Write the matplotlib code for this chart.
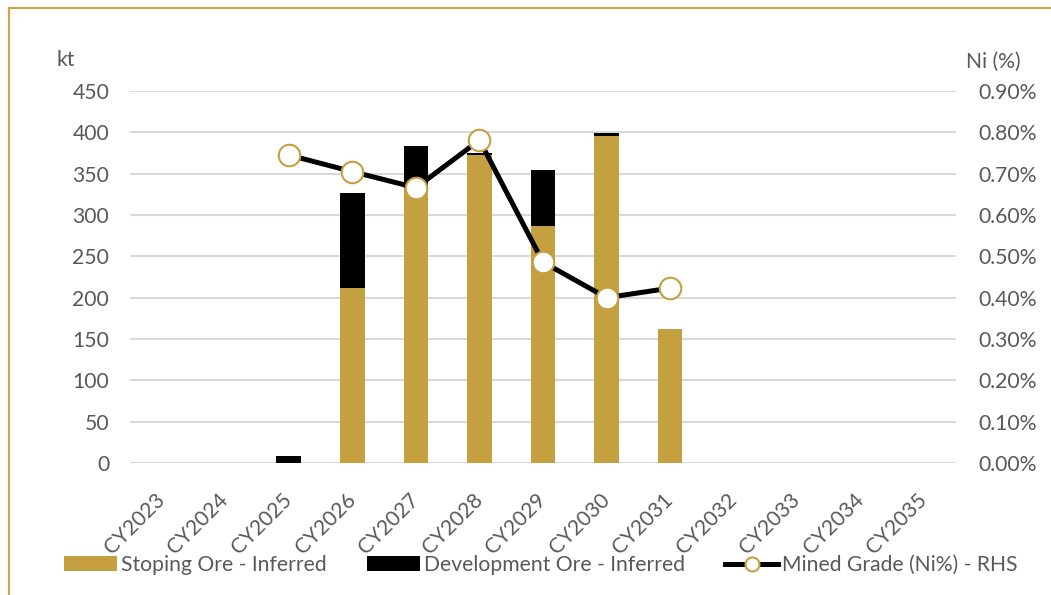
import matplotlib
matplotlib.use("Agg")
import matplotlib.pyplot as plt
import matplotlib.transforms as mtransforms
from matplotlib.lines import Line2D
import numpy as np

categories = ["CY2023", "CY2024", "CY2025", "CY2026", "CY2027", "CY2028", "CY2029",
              "CY2030", "CY2031", "CY2032", "CY2033", "CY2034", "CY2035"]
stoping = [0, 0, 0, 212, 333, 373, 287, 395, 162, 0, 0, 0, 0]
development = [0, 0, 8, 115, 51, 2, 67, 4, 0, 0, 0, 0, 0]
grade = [np.nan, np.nan, 0.745, 0.705, 0.666, 0.781, 0.486, 0.400, 0.423, np.nan, np.nan, np.nan, np.nan]
left_ticks = [0, 50, 100, 150, 200, 250, 300, 350, 400, 450]
right_ticks = [0.0, 0.1, 0.2, 0.3, 0.4, 0.5, 0.6, 0.7, 0.8, 0.9]

GOLD = "#C5A040"
TXT = "#595959"
GRID = "#D9D9D9"
plt.rcParams['font.family'] = ['Lato', 'DejaVu Sans']
FS = 15.2

fig = plt.figure(figsize=(10.51, 5.95), dpi=100)
ax = fig.add_axes([130/1051, 1-463/595, (956-130)/1051, (463-91)/595])
x = np.arange(len(categories))
ax.bar(x, stoping, width=0.39, color=GOLD, label="Stoping Ore - Inferred", zorder=2)
ax.bar(x, development, width=0.39, bottom=stoping, color="black", label="Development Ore - Inferred", zorder=2)
ax.set_xlim(-0.5, len(categories)-0.5)
ax.set_ylim(0, 450)
ax.set_yticks(left_ticks)
ax.grid(axis='y', color=GRID, linewidth=1.5, zorder=0)
ax.set_axisbelow(True)
for s in ax.spines.values():
    s.set_visible(False)
ax.tick_params(axis='both', length=0, labelsize=FS, labelcolor=TXT)
ax.tick_params(axis='y', pad=15)
ax.set_xticks(x)
ax.set_xticklabels(categories, rotation=45, ha='right', va='top')
off = mtransforms.ScaledTranslation(7/100, -22/100, fig.dpi_scale_trans)
for lab in ax.get_xticklabels():
    lab.set_transform(lab.get_transform() + off)

ax2 = ax.twinx()
ax2.set_ylim(0, 0.9)
ax2.set_yticks(right_ticks)
ax2.set_yticklabels([f"{v:.2f}%" for v in right_ticks])
for s in ax2.spines.values():
    s.set_visible(False)
ax2.tick_params(axis='y', length=0, labelsize=FS, labelcolor=TXT, pad=16)
ax2.plot(x, grade, color="black", linewidth=3.6, marker='o', markersize=15.5,
         markerfacecolor="white", markeredgecolor=GOLD, markeredgewidth=1.5,
         label="Mined Grade (Ni%) - RHS", zorder=3)

fig.text(57/1051, 1-60/595, "kt", fontsize=FS, color=TXT, va='center', ha='left')
fig.text(1021/1051, 1-62/595, "Ni (%)", fontsize=FS, color=TXT, va='center', ha='right')

h1, l1 = ax.get_legend_handles_labels()
h2, l2 = ax2.get_legend_handles_labels()
leg = fig.legend(h1 + h2, l1 + l2, loc='center left', bbox_to_anchor=(56/1051, 1-565/595),
                 ncol=3, frameon=False, fontsize=FS, handlelength=2.5, handleheight=0.66,
                 handletextpad=0.2, columnspacing=1.9, markerscale=0.65, borderaxespad=0)
for t in leg.get_texts():
    t.set_color(TXT)

# frame border lines (top and left)
fig.add_artist(Line2D([9/1051, 1], [1-7.5/595, 1-7.5/595], color="#C8A456", linewidth=1.6,
                      transform=fig.transFigure))
fig.add_artist(Line2D([9/1051, 9/1051], [0, 1-7.5/595], color="#C8A456", linewidth=1.6,
                      transform=fig.transFigure))

fig.savefig("out.png", dpi=100)
